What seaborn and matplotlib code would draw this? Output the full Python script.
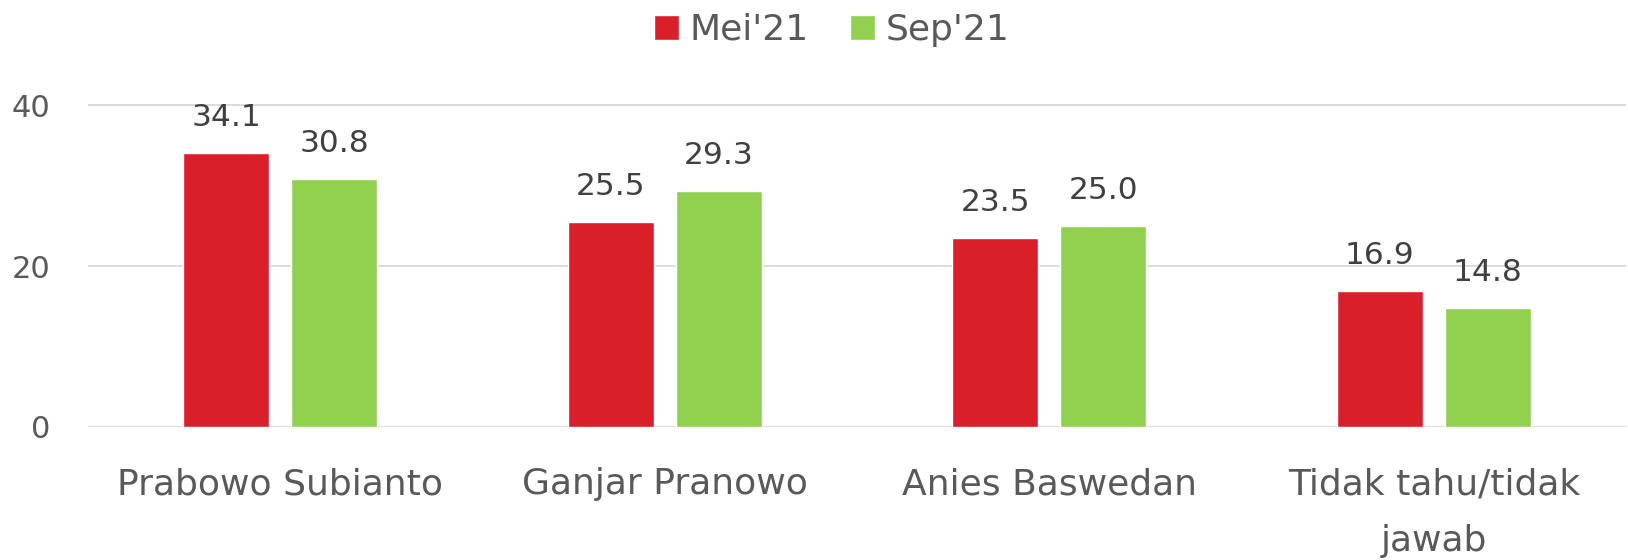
import matplotlib
matplotlib.use("Agg")
import matplotlib.pyplot as plt
import seaborn as sns
import pandas as pd

# data
categories = ["Prabowo Subianto", "Ganjar Pranowo", "Anies Baswedan", "Tidak tahu/tidak\njawab"]
series = ["Mei'21", "Sep'21"]
mei21 = [34.1, 25.5, 23.5, 16.9]
sep21 = [30.8, 29.3, 25.0, 14.8]
yticks = [0, 20, 40]

colors = ["#D91F2A", "#92D050"]

df = pd.DataFrame({
    "kandidat": categories * 2,
    "periode": [series[0]] * 4 + [series[1]] * 4,
    "nilai": mei21 + sep21,
})

sns.set_theme(style="white")
plt.rcParams["font.family"] = ["DejaVu Sans"]

W, H = 1628, 560
fig = plt.figure(figsize=(W / 100, H / 100), dpi=100)
ax = fig.add_axes([88 / W, 133 / H, (1626 - 88) / W, 362 / H])

sns.barplot(data=df, x="kandidat", y="nilai", hue="periode", palette=colors,
            width=0.56, gap=0.2, ax=ax, legend=True, saturation=1)

ax.set_ylim(0, 45)
ax.set_yticks(yticks)
ax.set_xlim(-0.5, 3.5)
ax.yaxis.grid(True, color="#D9D9D9", linewidth=1.3)
ax.set_axisbelow(True)
for s in ax.spines.values():
    s.set_visible(False)
ax.set_xlabel("")
ax.set_ylabel("")
ax.tick_params(axis="y", length=0, pad=27, labelsize=22, labelcolor="#595959")
ax.tick_params(axis="x", length=0, pad=29, labelsize=26, labelcolor="#595959")
for t in ax.get_xticklabels():
    t.set_linespacing(1.85)
    t.set_verticalalignment("top")

for cont in ax.containers:
    ax.bar_label(cont, fmt="%.1f", padding=15, fontsize=22.5, color="#404040")

handles, labels = ax.get_legend_handles_labels()
ax.get_legend().remove()
fig.legend(handles, labels, loc="center", bbox_to_anchor=(832 / W, 1 - 30 / H), ncol=2,
           frameon=False, fontsize=26, labelcolor="#595959", handlelength=0.69,
           handleheight=0.69, handletextpad=0.29, columnspacing=1.15)

fig.savefig("out.png", dpi=100)
